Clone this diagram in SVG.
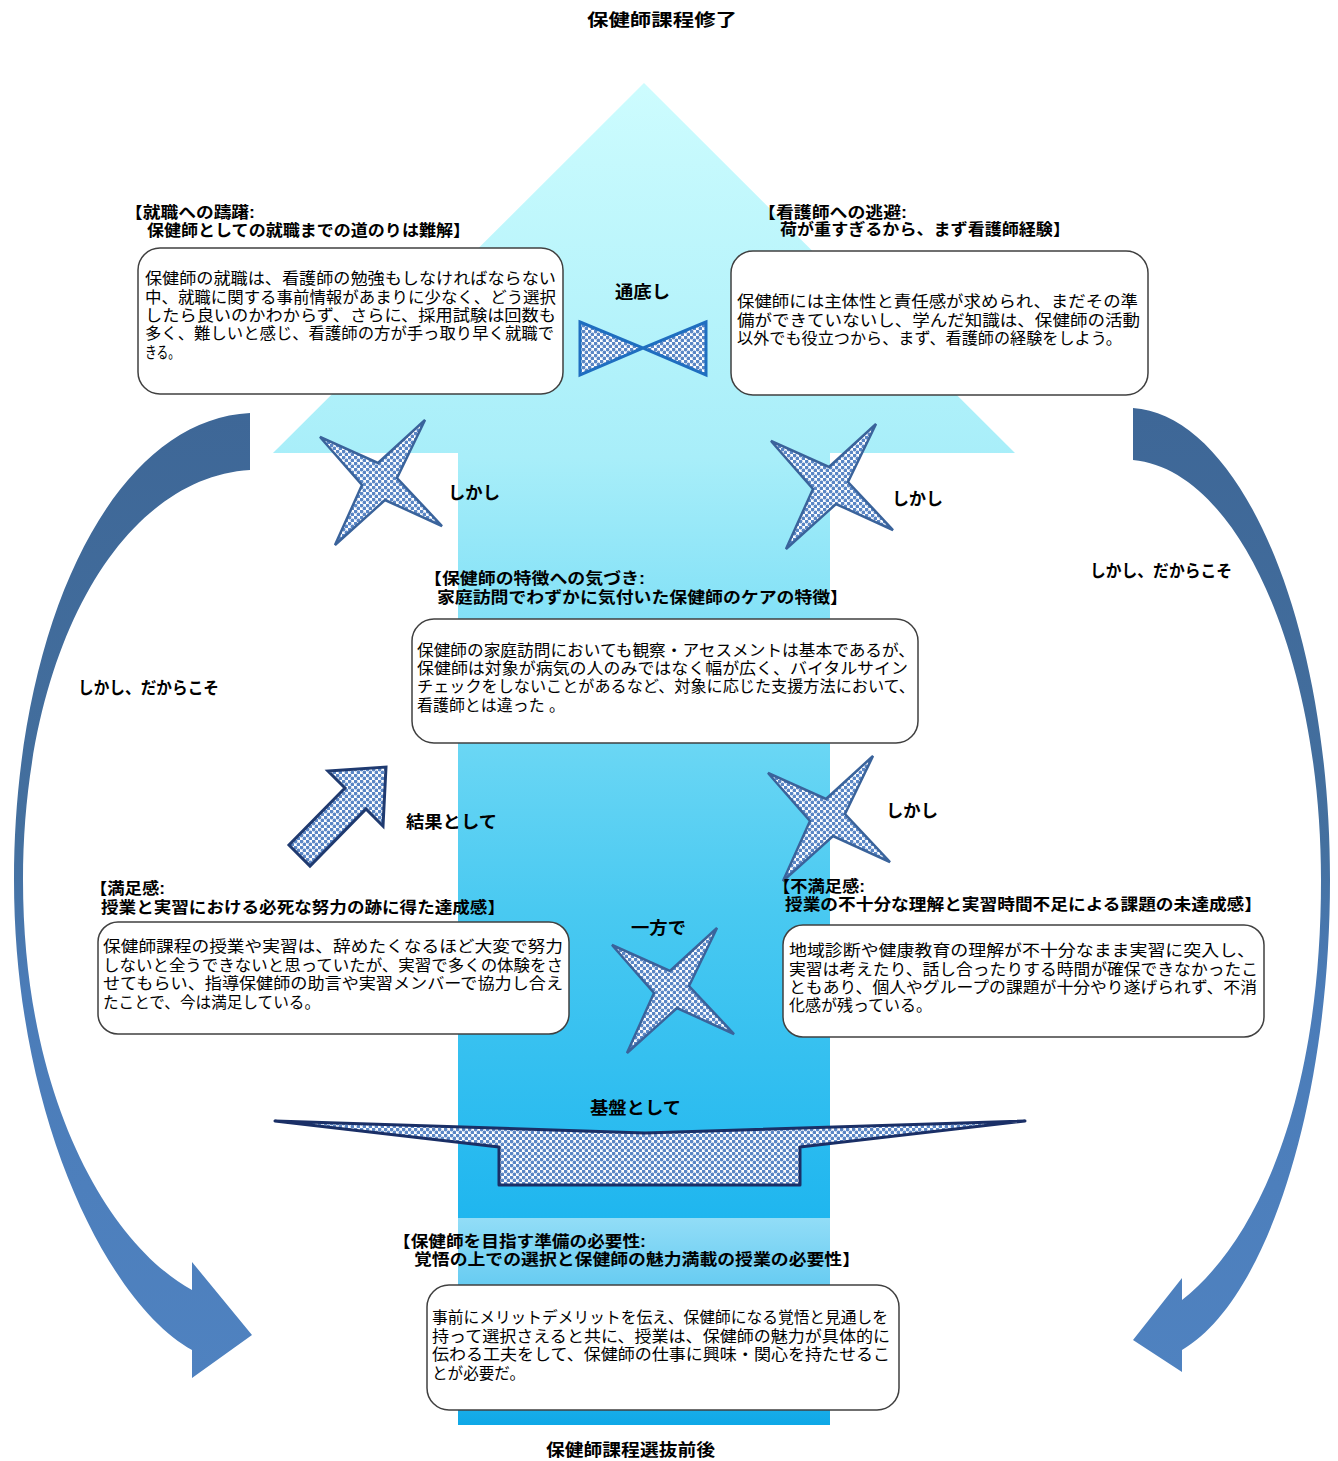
<svg xmlns="http://www.w3.org/2000/svg" width="1338" height="1461" viewBox="0 0 1338 1461">
<defs>
<style>
.ttl{font-family:"Liberation Sans","Noto Sans CJK JP",sans-serif;font-size:16px;font-weight:bold;fill:#000}
.bd{font-family:"Liberation Sans","Noto Sans CJK JP",sans-serif;font-size:16px;fill:#000}
.lb{font-family:"Liberation Sans","Noto Sans CJK JP",sans-serif;font-size:17px;font-weight:bold;fill:#000}
.box{fill:#fff;stroke:#404040;stroke-width:1.5}
.star{fill:url(#dots);stroke:#3a639b;stroke-width:2.5;stroke-linejoin:miter}
</style>
<linearGradient id="gMain" gradientUnits="userSpaceOnUse" x1="0" y1="83" x2="0" y2="1218">
<stop offset="0" stop-color="#cdfcfe"/>
<stop offset="0.33" stop-color="#a8eef9"/>
<stop offset="0.46" stop-color="#86e2f7"/>
<stop offset="0.73" stop-color="#49c9f1"/>
<stop offset="1" stop-color="#1fb6ef"/>
</linearGradient>
<linearGradient id="gBot" gradientUnits="userSpaceOnUse" x1="0" y1="1218" x2="0" y2="1425">
<stop offset="0" stop-color="#92ddf7"/>
<stop offset="1" stop-color="#0ea8e7"/>
</linearGradient>
<linearGradient id="gCurve" gradientUnits="userSpaceOnUse" x1="0" y1="410" x2="0" y2="1380">
<stop offset="0" stop-color="#3e6797"/>
<stop offset="0.45" stop-color="#44709f"/>
<stop offset="0.6" stop-color="#4b7cb8"/>
<stop offset="1" stop-color="#4f82c0"/>
</linearGradient>
<pattern id="dots" patternUnits="userSpaceOnUse" width="6" height="6">
<rect width="6" height="6" fill="#ffffff"/>
<circle cx="1.5" cy="1.5" r="1.9" fill="#5a86c5"/>
<circle cx="4.5" cy="4.5" r="1.9" fill="#5a86c5"/>
</pattern>
<path id="star4" d="M425,420 L397,478 L442,526 L385,500 L335,545 L362,485 L320,437 L378,463 Z"/>
</defs>

<g id="main-arrow">
<path d="M644,83 L1015,453 L830,453 L830,1218 L458,1218 L458,453 L273,453 Z" fill="url(#gMain)"/>
<rect x="458" y="1218" width="372" height="207" fill="url(#gBot)"/>
</g>

<g id="connectors">
<path id="curve-left" d="M250,413 C110,420 14,630 14,880 C14,1120 110,1305 192,1350 L192,1378 L252,1335 L192,1262 L192,1290 C110,1245 23,1100 23,880 C23,650 120,478 250,470 Z" fill="url(#gCurve)"/>
<path id="curve-right" d="M1133,408 C1240,415 1330,620 1330,880 C1330,1100 1268,1300 1182,1350 L1182,1372 L1133,1340 L1182,1278 L1182,1300 C1258,1240 1321,1100 1321,880 C1321,660 1240,470 1133,460 Z" fill="url(#gCurve)"/>
<g id="bowtie">
<path d="M580,322 L643,348 L580,375 Z M706,322 L643,348 L706,375 Z" fill="url(#dots)" stroke="#1f6ec0" stroke-width="3" stroke-linejoin="miter"/>
</g>
<use href="#star4" class="star"/>
<use href="#star4" class="star" transform="translate(451,4)"/>
<use href="#star4" class="star" transform="translate(448,336)"/>
<use href="#star4" class="star" transform="translate(292,508)"/>
<path id="result-arrow" d="M386,767 L383,826 L366,809 L310,866 L289,845 L345,788 L328,771 Z" fill="url(#dots)" stroke="#1f3a70" stroke-width="3" stroke-linejoin="miter"/>
<path id="base" d="M275,1121 L645,1133 L1025,1121 L800,1147 L800,1185 L499,1185 L499,1147 Z" fill="url(#dots)" stroke="#1a2f66" stroke-width="3" stroke-linejoin="round"/>
<text class="lb" x="615" y="298" textLength="55" lengthAdjust="spacingAndGlyphs">通底し</text>
<text class="lb" x="448" y="499" textLength="52" lengthAdjust="spacingAndGlyphs">しかし</text>
<text class="lb" x="892" y="505" textLength="51" lengthAdjust="spacingAndGlyphs">しかし</text>
<text class="lb" x="78" y="694" textLength="141" lengthAdjust="spacingAndGlyphs">しかし、だからこそ</text>
<text class="lb" x="1090" y="577" textLength="142" lengthAdjust="spacingAndGlyphs">しかし、だからこそ</text>
<text class="lb" x="886" y="817" textLength="52" lengthAdjust="spacingAndGlyphs">しかし</text>
<text class="lb" x="406" y="828" textLength="91" lengthAdjust="spacingAndGlyphs">結果として</text>
<text class="lb" x="631" y="934" textLength="55" lengthAdjust="spacingAndGlyphs">一方で</text>
<text class="lb" x="590" y="1114" textLength="91" lengthAdjust="spacingAndGlyphs">基盤として</text>
</g>

<g id="label-top">
<text class="lb" x="587" y="26" font-size="19" textLength="150" lengthAdjust="spacingAndGlyphs">保健師課程修了</text>
</g>
<g id="label-bottom">
<text class="lb" x="546" y="1456" font-size="18" textLength="169" lengthAdjust="spacingAndGlyphs">保健師課程選抜前後</text>
</g>

<g id="node-shushoku">
<text class="ttl" x="125" y="218" textLength="130" lengthAdjust="spacingAndGlyphs">【就職への躊躇:</text>
<text class="ttl" x="147" y="236" textLength="323" lengthAdjust="spacingAndGlyphs">保健師としての就職までの道のりは難解】</text>
<rect class="box" x="138" y="248" width="425" height="146" rx="22"/>
<text class="bd" x="145" y="284" textLength="411" lengthAdjust="spacingAndGlyphs">保健師の就職は、看護師の勉強もしなければならない</text>
<text class="bd" x="145" y="303" textLength="411" lengthAdjust="spacingAndGlyphs">中、就職に関する事前情報があまりに少なく、どう選択</text>
<text class="bd" x="145" y="321" textLength="411" lengthAdjust="spacingAndGlyphs">したら良いのかわからず、さらに、採用試験は回数も</text>
<text class="bd" x="145" y="339" textLength="409" lengthAdjust="spacingAndGlyphs">多く、難しいと感じ、看護師の方が手っ取り早く就職で</text>
<text class="bd" x="145" y="358" textLength="35" lengthAdjust="spacingAndGlyphs">きる。</text>
</g>

<g id="node-tohi">
<text class="ttl" x="758" y="218" textLength="149" lengthAdjust="spacingAndGlyphs">【看護師への逃避:</text>
<text class="ttl" x="780" y="235" textLength="290" lengthAdjust="spacingAndGlyphs">荷が重すぎるから、まず看護師経験】</text>
<rect class="box" x="731" y="251" width="417" height="144" rx="22"/>
<text class="bd" x="737" y="307" textLength="401" lengthAdjust="spacingAndGlyphs">保健師には主体性と責任感が求められ、まだその準</text>
<text class="bd" x="737" y="326" textLength="403" lengthAdjust="spacingAndGlyphs">備ができていないし、学んだ知識は、保健師の活動</text>
<text class="bd" x="737" y="344" textLength="385" lengthAdjust="spacingAndGlyphs">以外でも役立つから、まず、看護師の経験をしよう。</text>
</g>

<g id="node-kizuki">
<text class="ttl" x="424" y="584" textLength="221" lengthAdjust="spacingAndGlyphs">【保健師の特徴への気づき:</text>
<text class="ttl" x="437" y="603" textLength="411" lengthAdjust="spacingAndGlyphs">家庭訪問でわずかに気付いた保健師のケアの特徴】</text>
<rect class="box" x="412" y="619" width="506" height="124" rx="22"/>
<text class="bd" x="417" y="656" textLength="498" lengthAdjust="spacingAndGlyphs">保健師の家庭訪問においても観察・アセスメントは基本であるが、</text>
<text class="bd" x="417" y="674" textLength="491" lengthAdjust="spacingAndGlyphs">保健師は対象が病気の人のみではなく幅が広く、バイタルサイン</text>
<text class="bd" x="417" y="692" textLength="498" lengthAdjust="spacingAndGlyphs">チェックをしないことがあるなど、対象に応じた支援方法において、</text>
<text class="bd" x="417" y="711" textLength="148" lengthAdjust="spacingAndGlyphs">看護師とは違った 。</text>
</g>

<g id="node-manzoku">
<text class="ttl" x="90" y="894" textLength="75" lengthAdjust="spacingAndGlyphs">【満足感:</text>
<text class="ttl" x="101" y="913" textLength="404" lengthAdjust="spacingAndGlyphs">授業と実習における必死な努力の跡に得た達成感】</text>
<rect class="box" x="98" y="922" width="471" height="112" rx="20"/>
<text class="bd" x="103" y="952" textLength="460" lengthAdjust="spacingAndGlyphs">保健師課程の授業や実習は、辞めたくなるほど大変で努力</text>
<text class="bd" x="103" y="971" textLength="460" lengthAdjust="spacingAndGlyphs">しないと全うできないと思っていたが、実習で多くの体験をさ</text>
<text class="bd" x="103" y="989" textLength="460" lengthAdjust="spacingAndGlyphs">せてもらい、指導保健師の助言や実習メンバーで協力し合え</text>
<text class="bd" x="103" y="1008" textLength="217" lengthAdjust="spacingAndGlyphs">たことで、今は満足している。</text>
</g>

<g id="node-fumanzoku">
<text class="ttl" x="773" y="892" textLength="92" lengthAdjust="spacingAndGlyphs">【不満足感:</text>
<text class="ttl" x="785" y="910" textLength="477" lengthAdjust="spacingAndGlyphs">授業の不十分な理解と実習時間不足による課題の未達成感】</text>
<rect class="box" x="783" y="925" width="481" height="112" rx="20"/>
<text class="bd" x="789" y="956" textLength="466" lengthAdjust="spacingAndGlyphs">地域診断や健康教育の理解が不十分なまま実習に突入し、</text>
<text class="bd" x="789" y="975" textLength="469" lengthAdjust="spacingAndGlyphs">実習は考えたり、話し合ったりする時間が確保できなかったこ</text>
<text class="bd" x="789" y="993" textLength="468" lengthAdjust="spacingAndGlyphs">ともあり、個人やグループの課題が十分やり遂げられず、不消</text>
<text class="bd" x="789" y="1011" textLength="143" lengthAdjust="spacingAndGlyphs">化感が残っている。</text>
</g>

<g id="node-junbi">
<text class="ttl" x="393" y="1247" textLength="253" lengthAdjust="spacingAndGlyphs">【保健師を目指す準備の必要性:</text>
<text class="ttl" x="414" y="1265" textLength="446" lengthAdjust="spacingAndGlyphs">覚悟の上での選択と保健師の魅力満載の授業の必要性】</text>
<rect class="box" x="427" y="1285" width="472" height="125" rx="22"/>
<text class="bd" x="432" y="1323" textLength="456" lengthAdjust="spacingAndGlyphs">事前にメリットデメリットを伝え、保健師になる覚悟と見通しを</text>
<text class="bd" x="432" y="1342" textLength="458" lengthAdjust="spacingAndGlyphs">持って選択さえると共に、授業は、保健師の魅力が具体的に</text>
<text class="bd" x="432" y="1360" textLength="458" lengthAdjust="spacingAndGlyphs">伝わる工夫をして、保健師の仕事に興味・関心を持たせるこ</text>
<text class="bd" x="432" y="1379" textLength="93" lengthAdjust="spacingAndGlyphs">とが必要だ。</text>
</g>
</svg>
